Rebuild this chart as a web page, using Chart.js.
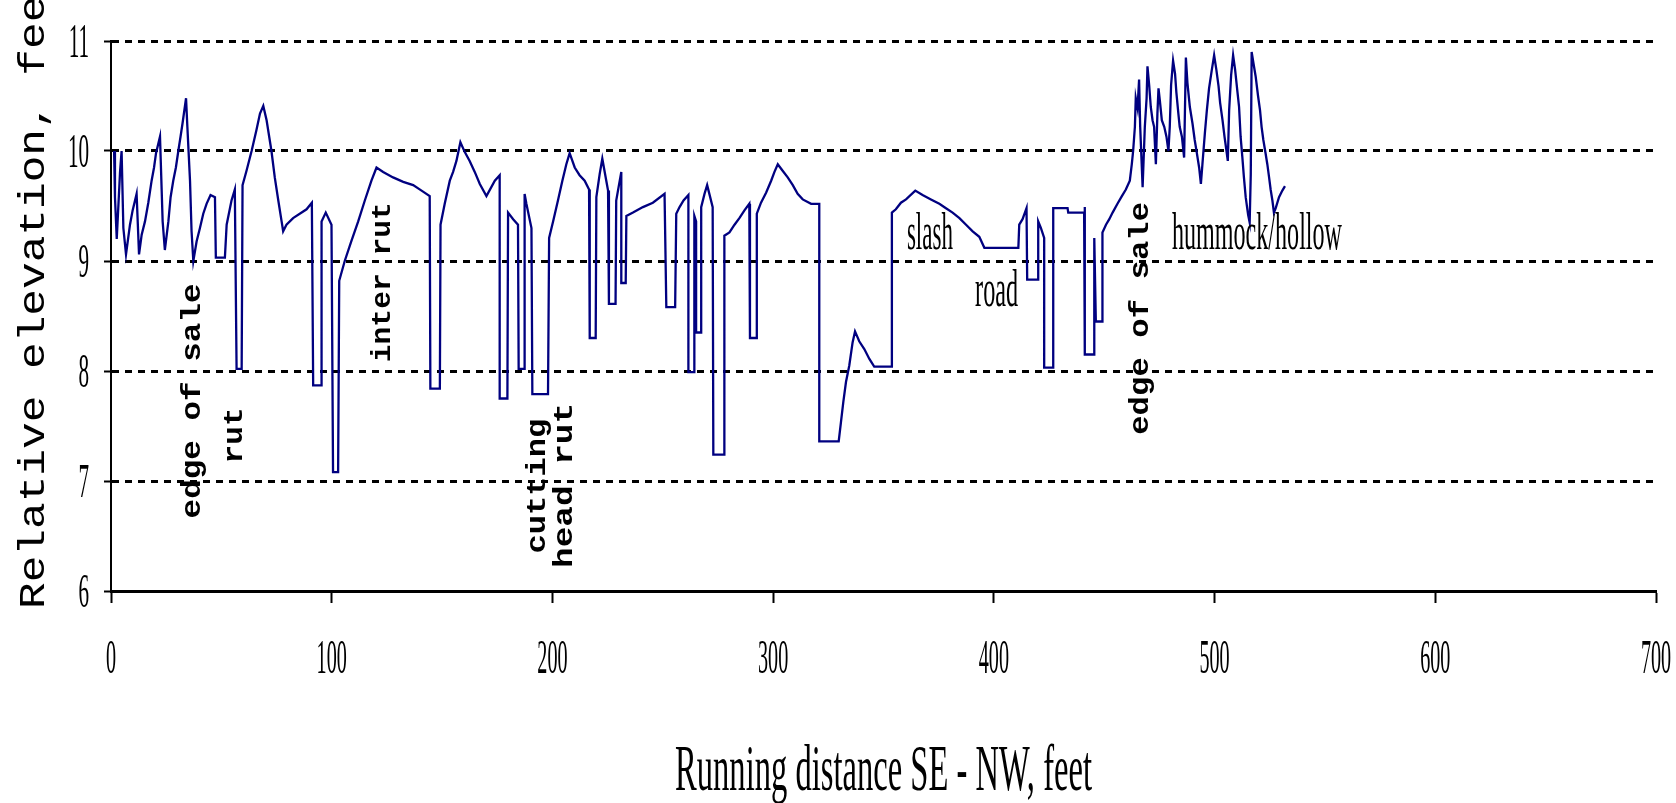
<!DOCTYPE html>
<html><head><meta charset="utf-8">
<script src="https://cdn.jsdelivr.net/npm/chart.js@4/dist/chart.umd.min.js"></script>
<style>html,body{margin:0;padding:0;background:#fff;}canvas{display:block;}</style>
</head><body>
<canvas id="c" width="1676" height="803"></canvas>
<script>
// ---- data ----
const distanceFt = [
  1.4, 1.8, 2.6, 4.1, 4.8, 5.6, 6.8, 8.6, 9.8, 11.6,
  12.7, 13.9, 15.4, 16.9, 18.4, 19.5, 20.4, 22.2, 23.4, 24.4,
  26.0, 27.0, 28.2, 29.4, 30.5, 31.5, 32.4, 34.0, 34.6, 35.8,
  36.5, 37.3, 38.8, 40.3, 41.8, 43.3, 45.1, 47.1, 47.5, 51.6,
  52.4, 54.6, 56.1, 56.9, 59.2, 59.6, 61.4, 63.7, 65.9, 67.5,
  69.0, 70.5, 72.7, 74.2, 75.8, 77.3, 78.0, 79.5, 82.5, 88.6,
  91.0, 91.6, 95.4, 95.4, 97.3, 99.9, 100.6, 102.9, 103.4, 105.9,
  108.9, 112.0, 115.0, 118.0, 120.3, 123.3, 127.8, 132.4, 136.9, 140.7,
  144.4, 144.7, 149.0, 149.3, 151.2, 153.5, 155.0, 156.5, 158.3, 160.3,
  162.5, 164.8, 167.1, 170.1, 173.9, 176.1, 176.1, 179.6, 179.9, 182.2,
  184.4, 184.7, 187.4, 187.4, 188.2, 190.5, 190.9, 198.0, 198.5, 200.3,
  202.5, 204.5, 206.3, 207.8, 210.1, 212.3, 214.6, 216.6, 216.9, 219.6,
  219.9, 221.4, 222.6, 224.4, 225.2, 225.6, 228.6, 228.9, 231.2, 231.2,
  233.2, 233.5, 236.5, 241.0, 245.5, 250.8, 251.6, 255.6, 256.1, 257.6,
  259.4, 261.6, 261.6, 264.3, 264.3, 265.1, 265.1, 267.4, 267.4, 268.9,
  270.1, 271.1, 272.6, 272.9, 277.9, 277.9, 280.2, 282.5, 284.7, 287.0,
  289.2, 289.5, 292.3, 292.6, 294.5, 296.8, 299.1, 300.6, 302.1, 304.3,
  306.6, 308.9, 311.1, 313.4, 317.2, 320.9, 320.9, 329.7, 330.7, 331.8,
  333.0, 334.5, 336.0, 337.1, 339.0, 341.3, 343.6, 345.8, 353.8, 353.8,
  355.6, 357.9, 360.2, 364.4, 367.7, 371.5, 375.3, 378.3, 381.3, 384.4,
  387.4, 390.4, 393.4, 395.7, 411.1, 411.5, 413.0, 414.8, 415.1, 420.1,
  420.1, 421.3, 422.8, 422.8, 426.9, 426.9, 433.4, 433.7, 440.9, 441.2,
  441.2, 445.5, 445.5, 446.2, 449.0, 449.2, 450.8, 452.3, 453.8, 456.0,
  458.0, 459.8, 461.6, 462.5, 463.1, 463.9, 464.3, 465.1, 465.8, 466.3,
  467.4, 468.4, 469.2, 469.6, 470.4, 471.1, 471.9, 472.6, 473.4, 474.1,
  474.6, 475.2, 476.1, 477.2, 478.2, 479.1, 479.7, 480.3, 481.2, 482.1,
  482.7, 483.6, 484.2, 485.2, 486.2, 487.0, 487.7, 488.8, 490.0, 491.0,
  491.9, 493.0, 493.8, 494.5, 495.6, 496.5, 497.5, 498.7, 499.8, 500.8,
  501.8, 502.5, 503.6, 504.5, 505.4, 506.0, 506.6, 507.5, 508.4, 509.3,
  510.4, 511.1, 511.8, 512.6, 513.3, 514.1, 515.2, 515.9, 516.4, 516.8,
  517.6, 518.6, 519.7, 520.6, 521.3, 522.1, 523.1, 523.9, 524.7, 525.4,
  526.2, 526.9, 527.7, 529.2, 530.7, 531.9
];
const elevationFt = [
  10.0, 9.58, 9.20, 9.81, 10.0, 9.30, 9.06, 9.33, 9.46, 9.61,
  9.06, 9.24, 9.36, 9.53, 9.73, 9.85, 9.98, 10.13, 9.36, 9.10,
  9.36, 9.58, 9.73, 9.85, 10.0, 10.13, 10.25, 10.48, 10.22, 9.73,
  9.27, 9.0, 9.18, 9.30, 9.43, 9.52, 9.60, 9.58, 9.03, 9.03,
  9.33, 9.55, 9.65, 8.02, 8.02, 9.69, 9.82, 10.0, 10.19, 10.34,
  10.41, 10.28, 10.0, 9.76, 9.55, 9.36, 9.27, 9.33, 9.39, 9.47,
  9.53, 7.87, 7.87, 9.36, 9.44, 9.33, 7.08, 7.08, 8.82, 9.0,
  9.18, 9.36, 9.55, 9.73, 9.85, 9.81, 9.76, 9.72, 9.69, 9.64,
  9.59, 7.84, 7.84, 9.33, 9.52, 9.73, 9.81, 9.91, 10.08, 9.99,
  9.91, 9.81, 9.70, 9.59, 9.73, 9.78, 7.75, 7.75, 9.44, 9.38,
  9.33, 8.02, 8.02, 9.61, 9.52, 9.30, 7.79, 7.79, 9.21, 9.36,
  9.55, 9.73, 9.88, 9.98, 9.85, 9.78, 9.73, 9.65, 8.30, 8.30,
  9.58, 9.79, 9.93, 9.73, 9.64, 8.61, 8.61, 9.55, 9.81, 8.80,
  8.80, 9.41, 9.44, 9.49, 9.53, 9.61, 8.58, 8.58, 9.43, 9.49,
  9.55, 9.60, 7.99, 7.99, 9.41, 9.36, 8.35, 8.35, 9.49, 9.61,
  9.69, 9.61, 9.49, 7.24, 7.24, 9.23, 9.26, 9.33, 9.39, 9.46,
  9.52, 8.30, 8.30, 9.43, 9.53, 9.62, 9.73, 9.81, 9.88, 9.82,
  9.76, 9.69, 9.61, 9.56, 9.52, 9.52, 7.36, 7.36, 7.53, 7.72,
  7.90, 8.05, 8.26, 8.36, 8.27, 8.20, 8.11, 8.04, 8.04, 9.44,
  9.47, 9.53, 9.56, 9.64, 9.60, 9.56, 9.52, 9.48, 9.44, 9.39,
  9.33, 9.27, 9.22, 9.12, 9.12, 9.33, 9.38, 9.48, 8.83, 8.83,
  9.36, 9.30, 9.21, 8.03, 8.03, 9.48, 9.48, 9.44, 9.44, 9.49,
  8.15, 8.15, 9.21, 8.45, 8.45, 9.26, 9.33, 9.38, 9.44, 9.52,
  9.59, 9.65, 9.73, 9.88, 10.0, 10.22, 10.48, 10.39, 10.65, 10.22,
  9.67, 10.22, 10.48, 10.77, 10.59, 10.40, 10.28, 10.22, 9.88, 10.34,
  10.57, 10.46, 10.28, 10.22, 10.13, 10.0, 10.22, 10.60, 10.82, 10.70,
  10.53, 10.34, 10.22, 10.13, 9.94, 10.85, 10.62, 10.40, 10.25, 10.10,
  9.99, 9.85, 9.70, 9.88, 10.16, 10.37, 10.57, 10.73, 10.87, 10.74,
  10.59, 10.44, 10.28, 10.13, 10.0, 9.91, 10.37, 10.69, 10.87, 10.74,
  10.53, 10.40, 10.13, 9.94, 9.76, 9.58, 9.42, 9.35, 9.79, 10.90,
  10.80, 10.68, 10.50, 10.37, 10.22, 10.10, 9.98, 9.88, 9.76, 9.65,
  9.55, 9.44, 9.48, 9.58, 9.64, 9.68
];
const xTickValues = [0, 100, 200, 300, 400, 500, 600, 700];
const xTickLabels = ['0', '100', '200', '300', '400', '500', '600', '700'];
const yTickValues = [6, 7, 8, 9, 10, 11];
const yTickLabels = ['6', '7', '8', '9', '10', '11'];
const xTitle = 'Running distance SE - NW, feet';
const yTitle = 'Relative elevation, feet';
const labelTexts = ['edge of sale', 'rut', 'inter rut', 'cutting', 'head rut', 'edge of sale', 'slash', 'road', 'hummock/hollow'];

// ---- annotation placement (data coords for anchor, pixel lengths) ----
const labelPlacement = [
  {x: 40.3, y: 6.66, len: 235, vertical: true},
  {x: 59.35, y: 7.16, len: 56, vertical: true},
  {x: 126.4, y: 8.08, len: 160, vertical: true},
  {x: 196.6, y: 6.34, len: 135, vertical: true},
  {x: 208.9, y: 6.21, len: 165, vertical: true},
  {x: 469.8, y: 7.42, len: 233, vertical: true},
  {x: 360.6, y: 9.11, len: 46, vertical: false},
  {x: 391.5, y: 8.59, len: 43, vertical: false},
  {x: 480.7, y: 9.11, len: 170, vertical: false}
];

const points = distanceFt.map((x, i) => ({x: x, y: elevationFt[i]}));

function drawScaled(ctx, text, x, y, o) {
  ctx.save();
  ctx.font = o.font;
  ctx.textAlign = o.align || 'left';
  ctx.textBaseline = 'alphabetic';
  let sx = o.sx || 1;
  if (o.width) sx = o.width / ctx.measureText(text).width;
  ctx.translate(x, y);
  if (o.rotate) ctx.rotate(o.rotate);
  ctx.scale(sx, o.sy || 1);
  ctx.fillStyle = '#000';
  ctx.fillText(text, 0, 0);
  ctx.restore();
}

const textPlugin = {
  id: 'texts',
  afterDraw(chart) {
    const ctx = chart.ctx;
    const xs = chart.scales.x, ys = chart.scales.y;
    const ca = chart.chartArea;
    xs.ticks.forEach((t, i) => {
      drawScaled(ctx, xTickLabels[i], xs.getPixelForValue(t.value), 673,
        {font: '48px "Liberation Serif"', sx: 0.42, align: 'center'});
    });
    ys.ticks.forEach((t, i) => {
      drawScaled(ctx, yTickLabels[i], 89, ys.getPixelForValue(t.value) + 16,
        {font: '48px "Liberation Serif"', sx: 0.44, align: 'right'});
    });
    drawScaled(ctx, xTitle, (ca.left + ca.right) / 2, 790,
      {font: '65px "Liberation Serif"', width: 417, align: 'center'});
    drawScaled(ctx, yTitle, 44, 609,
      {font: '37px "Liberation Mono"', width: 640, rotate: -Math.PI / 2, align: 'left'});
    labelPlacement.forEach((p, i) => {
      const px = xs.getPixelForValue(p.x), py = ys.getPixelForValue(p.y);
      if (p.vertical) {
        drawScaled(ctx, labelTexts[i], px, py,
          {font: 'bold 28px "Liberation Mono"', width: p.len, rotate: -Math.PI / 2, align: 'left'});
      } else {
        drawScaled(ctx, labelTexts[i], px, py,
          {font: '52px "Liberation Serif"', width: p.len, align: 'left'});
      }
    });
  }
};

new Chart(document.getElementById('c'), {
  type: 'scatter',
  data: {
    datasets: [{
      data: points,
      showLine: true,
      borderColor: '#000080',
      borderWidth: 2.3,
      pointRadius: 0,
      pointHoverRadius: 0,
      fill: false,
      tension: 0
    }]
  },
  options: {
    responsive: false,
    animation: false,
    devicePixelRatio: 1,
    layout: {padding: {left: 104, right: 20, top: 41, bottom: 200}},
    plugins: {legend: {display: false}, tooltip: {enabled: false}},
    scales: {
      x: {
        type: 'linear', min: 0, max: 700,
        afterBuildTicks: (s) => { s.ticks = xTickValues.map(v => ({value: v})); },
        ticks: {display: false},
        grid: {drawOnChartArea: false, drawTicks: true, tickLength: 12, tickWidth: 2, tickColor: '#000', color: '#000'},
        border: {display: true, color: '#000', width: 3}
      },
      y: {
        type: 'linear', min: 6, max: 11,
        afterBuildTicks: (s) => { s.ticks = yTickValues.map(v => ({value: v})); },
        ticks: {display: false},
        grid: {
          drawOnChartArea: true, drawTicks: true, tickLength: 7, tickWidth: 2, tickColor: '#000',
          lineWidth: 3,
          color: (c) => (c.tick && c.tick.value === 6) ? 'rgba(0,0,0,0)' : '#000'
        },
        border: {display: true, color: '#000', width: 2, dash: [7, 6]}
      }
    }
  },
  plugins: [textPlugin]
});
</script>
</body></html>
